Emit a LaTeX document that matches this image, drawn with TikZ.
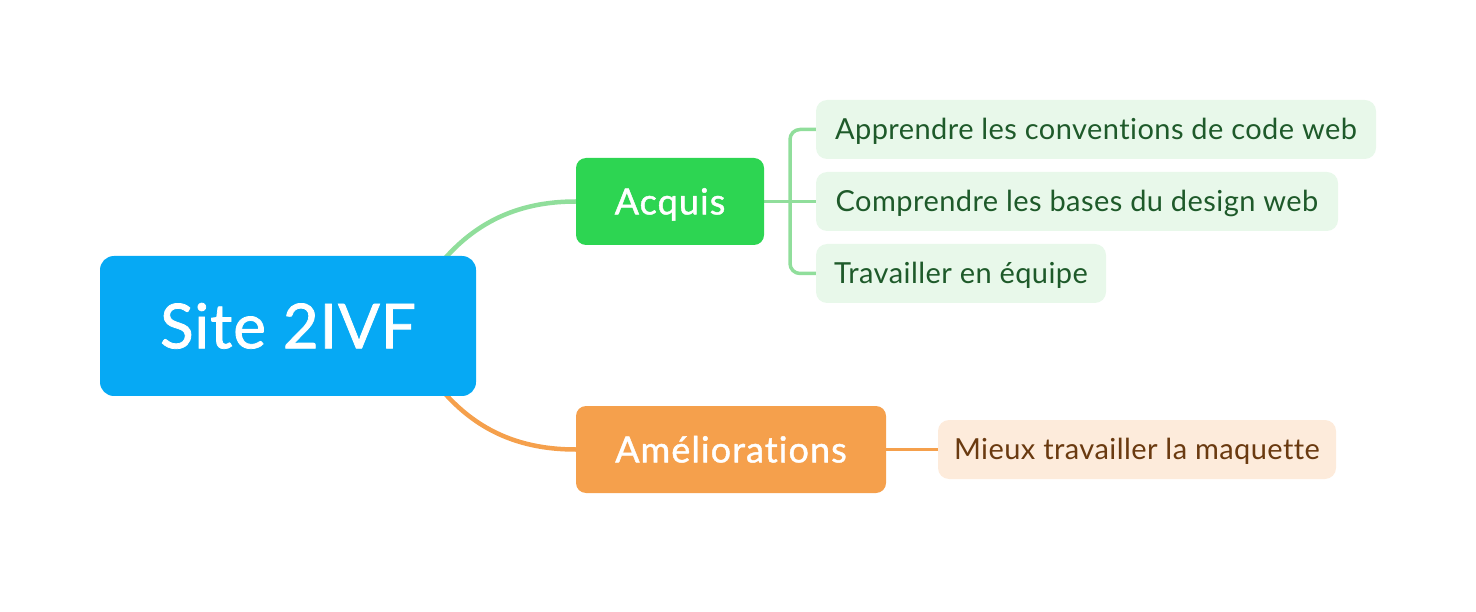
\documentclass[tikz,border=0pt]{standalone}
\usepackage{fontspec}
\setmainfont{Lato}
\newfontfamily\leaffont[LetterSpace=1.5,Ligatures=NoCommon]{Lato}
\newfontfamily\topicfont[LetterSpace=3,FakeBold=1.2,Ligatures=NoCommon]{Lato}
\newfontfamily\rootfont[LetterSpace=1.5,FakeBold=1.2,Ligatures=NoCommon]{Lato}
\usetikzlibrary{positioning}
\pgfdeclarelayer{background}
\pgfsetlayers{background,main}

\definecolor{rootblue}{RGB}{6,169,244}
\definecolor{topicgreen}{RGB}{45,213,82}
\definecolor{topicorange}{RGB}{245,160,76}
\definecolor{linkgreen}{RGB}{144,222,155}
\definecolor{linkorange}{RGB}{245,160,76}
\definecolor{leafgreenbg}{RGB}{232,248,234}
\definecolor{leafgreentext}{RGB}{30,90,42}
\definecolor{leaforangebg}{RGB}{253,235,219}
\definecolor{leaforangetext}{RGB}{106,58,16}

\tikzset{
  % capitals sit centred in every box (text height = cap height of the font)
  rootbox/.style={fill=rootblue, text=white, rounded corners=14pt,
    minimum width=376pt, minimum height=140pt, inner sep=0pt,
    font=\rootfont\fontsize{62}{62}\selectfont,
    text height=44.6pt, text depth=0pt},
  topicbox/.style={rounded corners=10pt, text=white, minimum height=87pt,
    inner sep=0pt, font=\topicfont\fontsize{36}{36}\selectfont,
    text height=25.9pt, text depth=0pt},
  leafbox/.style={rounded corners=11pt, minimum height=59pt, inner sep=0pt,
    font=\leaffont\fontsize{29}{29}\selectfont,
    text height=20.9pt, text depth=0pt},
  greenleaf/.style={leafbox, fill=leafgreenbg, text=leafgreentext},
  orangeleaf/.style={leafbox, fill=leaforangebg, text=leaforangetext},
  mainlink/.style={line width=4.5pt},
  leaflink/.style={line width=3.5pt, rounded corners=10pt},
}

\begin{document}
\begin{tikzpicture}[x=1pt, y=-1pt]
  \useasboundingbox (0,0) rectangle (1476,612);

  % central topic
  \node[rootbox] (root) at (288,326) {Site 2IVF};

  % main branches
  \node[topicbox, fill=topicgreen, minimum width=188pt] (acq) at (670,201.5) {Acquis};
  \node[topicbox, fill=topicorange, minimum width=310pt] (ame) at (731,449.5) {Améliorations};

  % leaves
  \node[greenleaf, minimum width=560pt] (l1) at (1096,129.5) {Apprendre les conventions de code web};
  \node[greenleaf, minimum width=522pt] (l2) at (1077,201.5) {Comprendre les bases du design web};
  \node[greenleaf, minimum width=290pt] (l3) at (961,273.5) {Travailler en équipe};
  \node[orangeleaf, minimum width=398pt] (m1) at (1137,449.5) {Mieux travailler la maquette};

  % curve starts hidden behind the central topic
  \coordinate (gs) at (420,292);
  \coordinate (os) at (420,360);
  \coordinate (bar) at (790,0);

  \begin{pgfonlayer}{background}
    \draw[mainlink, linkgreen] (gs) to[out=58, in=180] (acq.west);
    \draw[mainlink, linkorange] (os) to[out=-58, in=180] (ame.west);
    \draw[leaflink, linkgreen] (acq.east) -- (l2.west);
    \draw[leaflink, linkgreen] (l1.west) -| (bar |- l3.west) -- (l3.west);
    \draw[leaflink, linkorange] (ame.east) -- (m1.west);
  \end{pgfonlayer}
\end{tikzpicture}
\end{document}
